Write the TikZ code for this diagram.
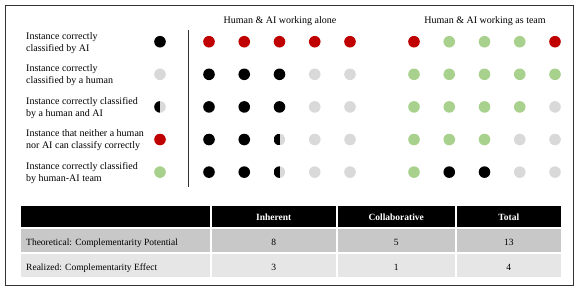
\documentclass[tikz,border=0pt]{standalone}
\usepackage{fontspec}
\setmainfont{Liberation Serif}
\definecolor{dred}{HTML}{C00000}
\definecolor{dgreen}{HTML}{A9D18E}
\definecolor{dgray}{HTML}{D9D9D9}
\definecolor{rowA}{HTML}{C8C8C8}
\definecolor{rowB}{HTML}{E6E6E6}
\definecolor{framec}{HTML}{333333}
\begin{document}
\begin{tikzpicture}[x=1pt,y=-1pt,
  dot/.style={circle,minimum size=11.6pt,inner sep=0pt,draw=none},
  R/.style={dot,fill=dred},
  G/.style={dot,fill=dgreen},
  Y/.style={dot,fill=dgray},
  K/.style={dot,fill=black},
  H/.style={dot,path picture={
     \fill[dgray] (path picture bounding box.south) rectangle (path picture bounding box.north east);
     \fill[black] (path picture bounding box.south west) rectangle (path picture bounding box.north);}},
  leg/.style={align=left,anchor=west,font=\fontsize{10}{12}\selectfont,inner sep=0pt},
  head/.style={font=\fontsize{10}{12}\selectfont,inner sep=0pt},
  cell/.style={rectangle,anchor=north west,draw=white,line width=1.5pt,inner sep=0pt},
  ctext/.style={font=\fontsize{9.5}{11}\selectfont,inner sep=0pt},
  htext/.style={font=\fontsize{9.5}{11}\selectfont\bfseries,text=white,inner sep=0pt}
]
\useasboundingbox (0,0) rectangle (581,290);
\draw[framec,line width=1pt] (5,5) rectangle (573,285);

% headers
\node[head] (hA) at (280,21) {Human \& AI working alone};
\node[head] (hT) at (485,21) {Human \& AI working as team};

% divider
\coordinate (vt) at (188,30);
\coordinate (vb) at (188,187);
\draw[line width=1pt,framec] (vt) -- (vb);

% legend
\foreach \s/\txt [count=\r] in {K/{Instance correctly\\classified by AI},
                                 Y/{Instance correctly\\classified by a human},
                                 H/{Instance correctly classified\\by a human and AI},
                                 R/{Instance that neither a human\\nor AI can classify correctly},
                                 G/{Instance correctly classified\\by human-AI team}}{
  \pgfmathsetmacro\yy{41.7+32.6*(\r-1)}
  \node[\s] (l\r) at (160,\yy) {};
  \node[leg] (lt\r) at (26,\yy+1) {\txt};
}

% dot grid
\foreach \row [count=\r] in {{R,R,R,R,R,R,G,G,G,R},
                             {K,K,K,Y,Y,G,G,G,G,G},
                             {K,K,K,Y,Y,G,G,G,G,Y},
                             {K,K,H,Y,Y,G,G,G,Y,Y},
                             {K,K,H,Y,Y,G,K,K,Y,Y}}{
  \foreach \s [count=\c] in \row {
    \pgfmathsetmacro\xx{\c<6 ? 209+35.25*(\c-1) : 414+35.25*(\c-6)}
    \pgfmathsetmacro\yy{41.7+32.6*(\r-1)}
    \node[\s] (d\r-\c) at (\xx,\yy) {};
  }
}

% table
\node[cell,fill=black,minimum width=191pt,minimum height=23pt] (c00) at (19,204) {};
\node[cell,fill=black,minimum width=126pt,minimum height=23pt] (c01) at (210,204) {};
\node[cell,fill=black,minimum width=119pt,minimum height=23pt] (c02) at (336,204) {};
\node[cell,fill=black,minimum width=106pt,minimum height=23pt] (c03) at (455,204) {};
\node[cell,fill=rowA,minimum width=191pt,minimum height=25pt] (c10) at (19,227) {};
\node[cell,fill=rowA,minimum width=126pt,minimum height=25pt] (c11) at (210,227) {};
\node[cell,fill=rowA,minimum width=119pt,minimum height=25pt] (c12) at (336,227) {};
\node[cell,fill=rowA,minimum width=106pt,minimum height=25pt] (c13) at (455,227) {};
\node[cell,fill=rowB,minimum width=191pt,minimum height=25pt] (c20) at (19,252) {};
\node[cell,fill=rowB,minimum width=126pt,minimum height=25pt] (c21) at (210,252) {};
\node[cell,fill=rowB,minimum width=119pt,minimum height=25pt] (c22) at (336,252) {};
\node[cell,fill=rowB,minimum width=106pt,minimum height=25pt] (c23) at (455,252) {};

\node[htext] (t01) at ([yshift=-1pt]c01.center) {Inherent};
\node[htext] (t02) at ([yshift=-1pt]c02.center) {Collaborative};
\node[htext] (t03) at ([yshift=-1pt]c03.center) {Total};

\node[ctext,anchor=west] (t10) at ([xshift=7pt,yshift=-2.5pt]c10.west) {Theoretical: Complementarity Potential};
\node[ctext] (t11) at ([yshift=-2.5pt]c11.center) {8};
\node[ctext] (t12) at ([yshift=-2.5pt]c12.center) {5};
\node[ctext] (t13) at ([yshift=-2.5pt]c13.center) {13};
\node[ctext,anchor=west] (t20) at ([xshift=7pt,yshift=-2.5pt]c20.west) {Realized: Complementarity Effect};
\node[ctext] (t21) at ([yshift=-2.5pt]c21.center) {3};
\node[ctext] (t22) at ([yshift=-2.5pt]c22.center) {1};
\node[ctext] (t23) at ([yshift=-2.5pt]c23.center) {4};
\end{tikzpicture}
\end{document}
